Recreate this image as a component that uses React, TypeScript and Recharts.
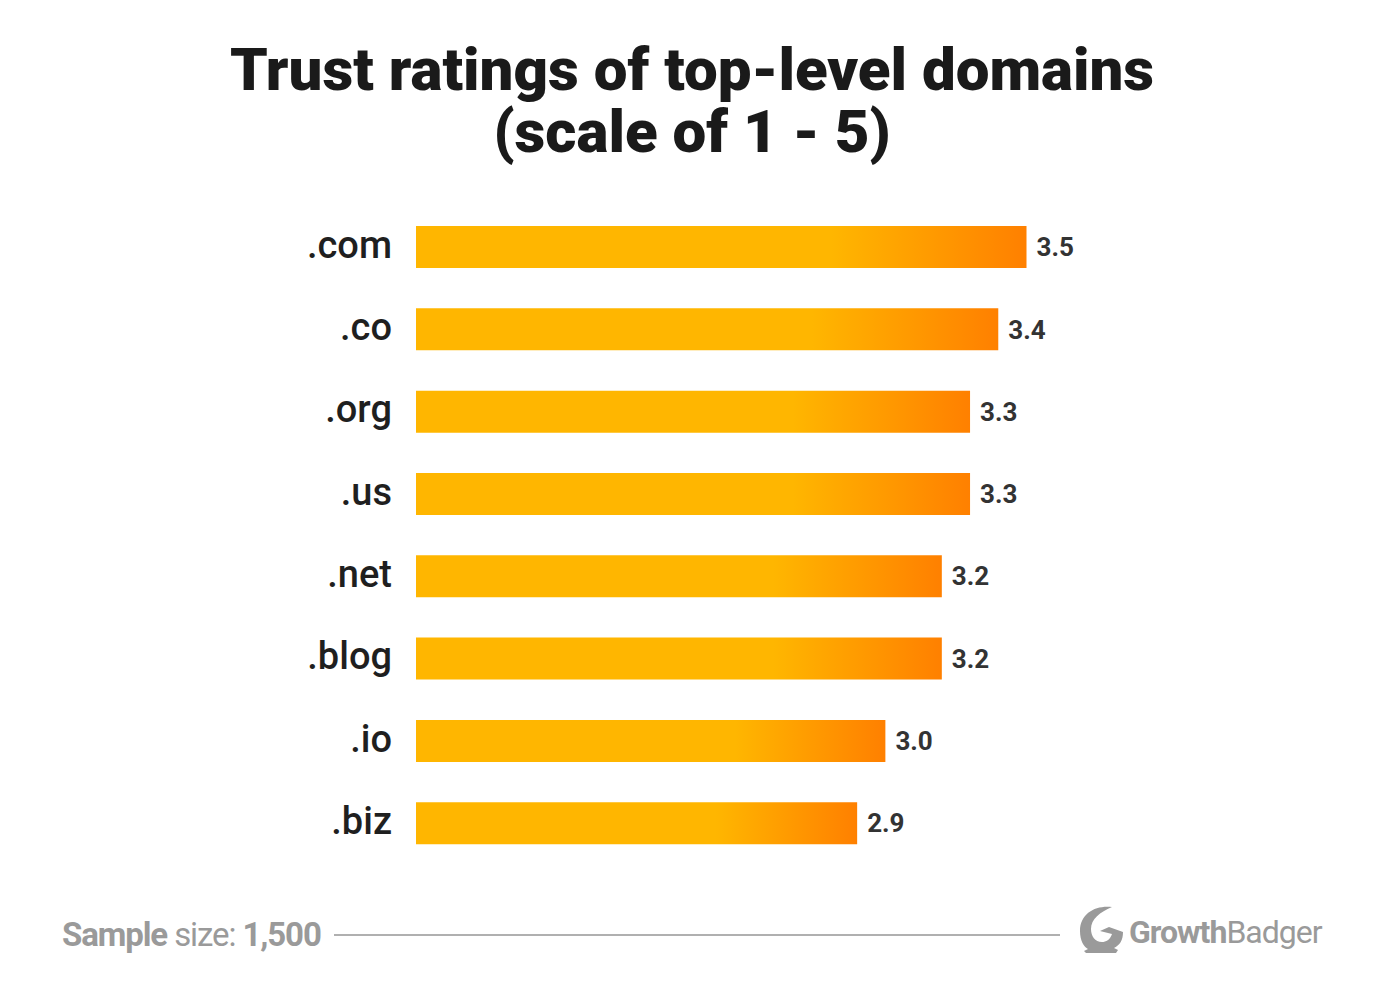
import React from 'react';
import { BarChart, Bar, XAxis, YAxis, LabelList } from 'recharts';

const domains = ['.com', '.co', '.org', '.us', '.net', '.blog', '.io', '.biz'];
const ratings = [3.5, 3.4, 3.3, 3.3, 3.2, 3.2, 3.0, 2.9];

const data = domains.map((domain, i) => ({ domain, rating: ratings[i] }));

const font = 'Roboto, sans-serif';

const App: React.FC = () => {
  return (
    <div style={{ position: 'absolute', left: 0, top: 0, width: 1394, height: 988, background: '#fff', overflow: 'hidden', fontFamily: font }}>
      <div style={{ position: 'absolute', left: 0, top: 39, width: 1384, textAlign: 'center', fontSize: 60, lineHeight: '62px', fontWeight: 900, color: '#1a1a1a' }}>
        Trust ratings of top-level domains
        <br />
        (scale of 1 - 5)
      </div>

      <div style={{ position: 'absolute', left: 0, top: 0 }}>
        <BarChart
          width={1394}
          height={988}
          data={data}
          layout="vertical"
          margin={{ top: 206, right: 367.5, bottom: 123.5, left: 0 }}
        >
          <defs>
            <linearGradient id="barFade" x1="0" y1="0" x2="1" y2="0">
              <stop offset="0.68" stopColor="#ffb600" />
              <stop offset="1" stopColor="#ff8000" />
            </linearGradient>
          </defs>
          <XAxis type="number" hide domain={[1.337, 3.5]} />
          <YAxis
            type="category"
            dataKey="domain"
            width={416}
            axisLine={false}
            tickLine={false}
            tickMargin={18}
            dy={-3}
            tick={{ fontSize: 38, fontWeight: 500, fill: '#1f1f1f', fontFamily: font }}
          />
          <Bar dataKey="rating" fill="url(#barFade)" barSize={42} isAnimationActive={false}>
            <LabelList
              dataKey="rating"
              position="right"
              offset={10}
              formatter={(v: number) => v.toFixed(1)}
              style={{ fontSize: 26, fontWeight: 700, fill: '#333', fontFamily: font }}
            />
          </Bar>
        </BarChart>
      </div>

      <div style={{ position: 'absolute', left: 62, top: 914, fontSize: 33, lineHeight: '42px', color: '#9a9a9a', letterSpacing: -1.1, whiteSpace: 'nowrap' }}>
        <b>Sample</b> size: <b>1,500</b>
      </div>
      <div style={{ position: 'absolute', left: 334, top: 934, width: 726, height: 2, background: '#b0b0b0' }} />

      <svg style={{ position: 'absolute', left: 1076, top: 904 }} width={52} height={52} viewBox="0 0 52 52">
        <path
          d="M36 3 C20 1 4 9 4 27 C4 37 8 43 12 45 L8 47 L10 49 L40 49 L42 46 L38 44 C44 41 47 36 47 28 L33 23 L24 27 L36 30 C34 36 30 38 26 38 C19 38 15 32 15 25 C15 15 24 8 36 3 Z"
          fill="#9a9a9a"
        />
      </svg>
      <div style={{ position: 'absolute', left: 1129, top: 912, fontSize: 32, lineHeight: '40px', color: '#9a9a9a', letterSpacing: -1, whiteSpace: 'nowrap' }}>
        <b>Growth</b>Badger
      </div>
    </div>
  );
};

export default App;
